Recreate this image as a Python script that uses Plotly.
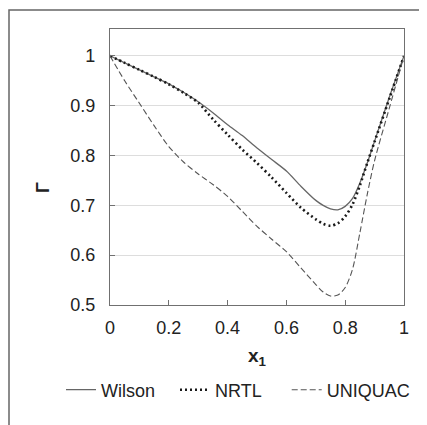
import plotly.graph_objects as go

x1 = [0.0, 0.05, 0.1, 0.15, 0.2, 0.25, 0.3, 0.35, 0.4, 0.45, 0.5,
      0.55, 0.6, 0.65, 0.7, 0.725, 0.75, 0.775, 0.8, 0.825, 0.85, 0.875, 0.9, 0.95, 1.0]
wilson = [1.0, 0.986, 0.972, 0.958, 0.944, 0.927, 0.908, 0.886, 0.862, 0.840, 0.815,
          0.792, 0.769, 0.738, 0.710, 0.700, 0.693, 0.691, 0.698, 0.714, 0.745, 0.785, 0.829, 0.917, 1.0]
nrtl = [1.0, 0.986, 0.972, 0.958, 0.943, 0.926, 0.906, 0.873, 0.842, 0.812, 0.785,
        0.756, 0.725, 0.695, 0.672, 0.663, 0.659, 0.664, 0.678, 0.702, 0.740, 0.785, 0.828, 0.914, 1.0]
uniquac = [1.0, 0.950, 0.905, 0.860, 0.818, 0.787, 0.763, 0.742, 0.718, 0.688, 0.658,
           0.632, 0.607, 0.574, 0.541, 0.526, 0.518, 0.520, 0.535, 0.572, 0.645, 0.722, 0.790, 0.895, 1.0]

xticks = [0, 0.2, 0.4, 0.6, 0.8, 1.0]
xtick_text = ["0", "0.2", "0.4", "0.6", "0.8", "1"]
yticks = [0.5, 0.6, 0.7, 0.8, 0.9, 1.0]
ytick_text = ["0.5", "0.6", "0.7", "0.8", "0.9", "1"]

FONT = "Liberation Sans, Arial, sans-serif"
NB = "\u00a0"

fig = go.Figure()
fig.add_trace(go.Scatter(x=x1, y=wilson, mode="lines", name="Wilson" + NB * 3,
                         line=dict(color="#666666", width=1.3, shape="spline", smoothing=0.8)))
fig.add_trace(go.Scatter(x=x1, y=nrtl, mode="lines", name="NRTL" + NB * 4,
                         line=dict(color="#1a1a1a", width=2.6, dash="2px,3px", shape="spline", smoothing=0.8)))
fig.add_trace(go.Scatter(x=x1, y=uniquac, mode="lines", name="UNIQUAC",
                         line=dict(color="#555555", width=1.1, dash="6px,3px", shape="spline", smoothing=0.8)))

W, H = 427, 425
OFF = 8  # page body margin
L, R, T, B = 102, 31, 21, 128
pw, ph = W - L - R, H - T - B

def px(sx):
    return (sx - OFF - L) / pw

def py(sy):
    return (OFF + H - B - sy) / ph

fig.update_layout(
    width=W, height=H,
    margin=dict(l=L, r=R, t=T, b=B, pad=0),
    paper_bgcolor="white", plot_bgcolor="white",
    font=dict(family=FONT, size=18, color="#222222"),
    showlegend=True,
    legend=dict(orientation="h", x=px(61), xanchor="left", y=py(390), yanchor="middle",
                font=dict(family=FONT, size=18, color="#222222"),
                bgcolor="rgba(0,0,0,0)", itemwidth=30, tracegroupgap=0),
    xaxis=dict(range=[0, 1], tickvals=xticks, ticktext=xtick_text,
               showline=True, mirror=True, linecolor="#707070", linewidth=1.3,
               ticks="inside", ticklen=5, tickcolor="#707070", showgrid=False,
               zeroline=False, ticklabelstandoff=6,
               tickfont=dict(family=FONT, size=18, color="#222222")),
    yaxis=dict(range=[0.5, 1.054], tickvals=yticks, ticktext=ytick_text,
               showline=True, mirror=True, linecolor="#707070", linewidth=1.3,
               ticks="inside", ticklen=5, tickcolor="#707070",
               showgrid=True, gridcolor="#dddddd", gridwidth=1,
               zeroline=False, ticklabelstandoff=10,
               tickfont=dict(family=FONT, size=18, color="#222222")),
    shapes=[dict(type="rect", xref="paper", yref="paper",
                 x0=px(9), x1=px(445), y0=py(445), y1=py(10),
                 line=dict(color="#666666", width=1.5), fillcolor="rgba(0,0,0,0)", layer="below")],
    annotations=[
        dict(text="<b>Γ</b>", xref="paper", yref="paper", x=px(43), y=py(188),
             textangle=-90, showarrow=False, xanchor="center", yanchor="middle",
             font=dict(family=FONT, size=18, color="#222222")),
        dict(text="<b>x<sub>1</sub></b>", xref="paper", yref="paper", x=0.5, y=py(357),
             showarrow=False, xanchor="center", yanchor="middle",
             font=dict(family=FONT, size=19, color="#222222")),
    ],
)

fig.write_html("out.html")
